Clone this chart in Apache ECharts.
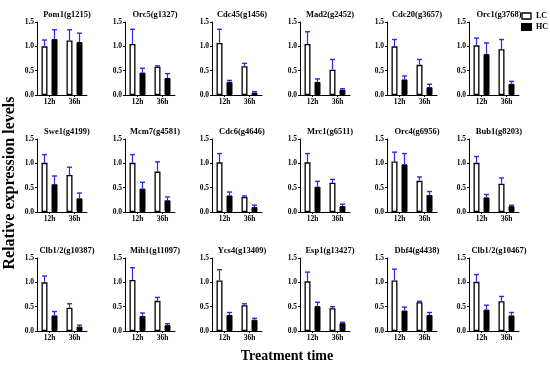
<!DOCTYPE html>
<html><head><meta charset="utf-8">
<script src="https://cdn.jsdelivr.net/npm/echarts@6/dist/echarts.min.js"></script>
<style>html,body{margin:0;padding:0;background:#fff}#c{width:550px;height:365px}</style>
</head><body><div id="c"></div>
<script>
var genes = ["Pom1(g1215)","Orc5(g1327)","Cdc45(g1456)","Mad2(g2452)","Cdc20(g3657)","Orc1(g3768)",
"Swe1(g4199)","Mcm7(g4581)","Cdc6(g4646)","Mrc1(g6511)","Orc4(g6956)","Bub1(g8203)",
"Clb1/2(g10387)","Mih1(g11097)","Ycs4(g13409)","Esp1(g13427)","Dbf4(g4438)","Clb1/2(g10467)"];
var categories = ["12h","36h"];
var yTicks = [0, 0.5, 1.0, 1.5];
// mean values [12h, 36h]
var lcValues = [[1.00,1.12],[1.05,0.58],[1.07,0.59],[1.05,0.52],[1.00,0.62],[1.02,0.94],
[1.01,0.76],[1.01,0.83],[1.02,0.31],[1.02,0.60],[1.04,0.64],[1.01,0.58],
[1.00,0.48],[1.05,0.62],[1.04,0.53],[1.02,0.47],[1.04,0.59],[1.01,0.61]];
var hcValues = [[1.15,1.09],[0.46,0.35],[0.27,0.05],[0.27,0.11],[0.32,0.16],[0.84,0.23],
[0.57,0.28],[0.48,0.24],[0.34,0.10],[0.52,0.12],[0.98,0.35],[0.30,0.12],
[0.32,0.09],[0.31,0.12],[0.33,0.23],[0.51,0.16],[0.42,0.33],[0.44,0.32]];
// upper error bar tops
var lcTops = [[1.13,1.34],[1.35,0.60],[1.35,0.65],[1.30,0.73],[1.14,0.73],[1.17,1.14],
[1.18,0.92],[1.18,1.03],[1.20,0.33],[1.20,0.67],[1.23,0.72],[1.14,0.70],
[1.13,0.56],[1.30,0.69],[1.26,0.56],[1.21,0.50],[1.27,0.61],[1.16,0.71]];
var hcTops = [[1.34,1.27],[0.55,0.44],[0.30,0.07],[0.33,0.13],[0.39,0.22],[1.07,0.28],
[0.74,0.39],[0.61,0.31],[0.41,0.14],[0.63,0.16],[1.20,0.42],[0.36,0.14],
[0.40,0.12],[0.37,0.15],[0.38,0.26],[0.59,0.18],[0.49,0.38],[0.53,0.38]];

var FONT = "Liberation Serif";
var colLeft = [37, 125, 212, 300, 387, 469];
var rowTop = [22, 139, 258];
var gw = 50, gh = 73;
var BW = 6, GAPPX = 4;

function errSeries(i, means, tops, sign) {
  var d = [];
  for (var k = 0; k < categories.length; k++) d.push([k, means[k], tops[k]]);
  return {type: 'custom', xAxisIndex: i, yAxisIndex: i, data: d, z: 3, silent: true,
    renderItem: function (params, api) {
      var off = sign * (BW + GAPPX) / 2;
      var p0 = api.coord([api.value(0), api.value(1)]);
      var p1 = api.coord([api.value(0), api.value(2)]);
      var x = p0[0] + off;
      return {type: 'group', children: [
        {type: 'line', shape: {x1: x, y1: p0[1], x2: x, y2: p1[1]}, style: {stroke: '#2a2af0', lineWidth: 1.2}},
        {type: 'line', shape: {x1: x - 2.5, y1: p1[1], x2: x + 2.5, y2: p1[1]}, style: {stroke: '#2a2af0', lineWidth: 1.4}}
      ]};
    }};
}

var grids = [], xAxes = [], yAxes = [], series = [], titles = [];
for (var i = 0; i < genes.length; i++) {
  var r = Math.floor(i / 6), c = i % 6;
  grids.push({left: colLeft[c], top: rowTop[r], width: gw, height: gh});
  titles.push({text: genes[i], left: colLeft[c] + gw / 2, top: rowTop[r] - 17, textAlign: 'center',
    textStyle: {fontFamily: FONT, fontWeight: 'bold', fontSize: 8.5, color: '#000'}});
  xAxes.push({type: 'category', gridIndex: i, data: categories,
    axisLine: {lineStyle: {color: '#000', width: 1}},
    axisTick: {show: true, alignWithLabel: true, length: 2, lineStyle: {color: '#000'}},
    axisLabel: {fontFamily: FONT, fontWeight: 'bold', fontSize: 7.5, color: '#000', margin: 3}});
  yAxes.push({type: 'value', gridIndex: i, min: yTicks[0], max: yTicks[yTicks.length - 1], interval: 0.5,
    splitLine: {show: false},
    axisLine: {show: true, lineStyle: {color: '#000', width: 1}},
    axisTick: {show: true, length: 2, lineStyle: {color: '#000'}},
    axisLabel: {fontFamily: FONT, fontWeight: 'bold', fontSize: 7.5, color: '#000', margin: 3,
      formatter: function (v) { return v.toFixed(1); }}});
  series.push({name: 'LC', type: 'bar', xAxisIndex: i, yAxisIndex: i, data: lcValues[i],
    barWidth: BW, barGap: (GAPPX / BW * 100) + '%',
    itemStyle: {color: '#fff', borderColor: '#000', borderWidth: 1.3}, z: 2});
  series.push({name: 'HC', type: 'bar', xAxisIndex: i, yAxisIndex: i, data: hcValues[i],
    barWidth: BW, itemStyle: {color: '#000', borderColor: '#000', borderWidth: 1}, z: 2});
  series.push(errSeries(i, lcValues[i], lcTops[i], -1));
  series.push(errSeries(i, hcValues[i], hcTops[i], 1));
}

var chart = echarts.init(document.getElementById('c'), null, {renderer: 'canvas'});
chart.setOption({
  animation: false,
  backgroundColor: '#fff',
  title: titles,
  legend: {data: [{name: 'LC', icon: 'rect', itemStyle: {color: '#fff', borderColor: '#000', borderWidth: 1.3}},
                  {name: 'HC', icon: 'rect', itemStyle: {color: '#000'}}],
    orient: 'vertical', right: 2, top: 12, itemWidth: 9, itemHeight: 6, itemGap: 3, padding: 0,
    textStyle: {fontFamily: FONT, fontWeight: 'bold', fontSize: 8, color: '#000'}},
  graphic: [
    {type: 'text', x: 2, y: 183, rotation: Math.PI / 2,
     style: {text: 'Relative expression levels', font: 'bold 16px "Liberation Serif"', fill: '#000',
       textAlign: 'center', textVerticalAlign: 'top'}},
    {type: 'text', x: 287, y: 349,
     style: {text: 'Treatment time', font: 'bold 14px "Liberation Serif"', fill: '#000', textAlign: 'center'}}
  ],
  grid: grids, xAxis: xAxes, yAxis: yAxes, series: series
});
</script></body></html>
